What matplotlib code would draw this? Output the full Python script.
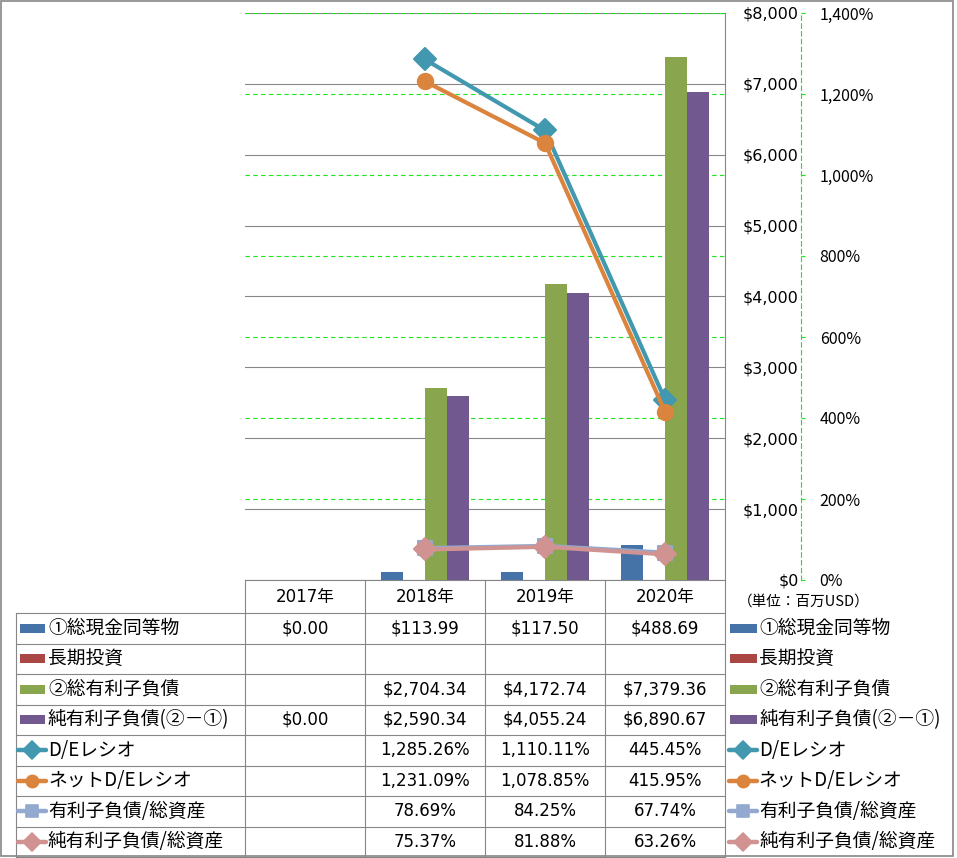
import numpy as np
import matplotlib.pyplot as plt
from matplotlib.patches import Rectangle
from matplotlib.markers import MarkerStyle
from matplotlib.transforms import blended_transform_factory

plt.rcParams['font.family'] = ['Noto Sans CJK JP', 'DejaVu Sans']
num_font = ['DejaVu Sans', 'Noto Sans CJK JP']

#--------------------- data ---------------------
years = ['2017年', '2018年', '2019年', '2020年']
cash = [0.00, 113.99, 117.50, 488.69]
lt_invest = [None, None, None, None]
debt = [None, 2704.34, 4172.74, 7379.36]
net_debt = [0.00, 2590.34, 4055.24, 6890.67]
de_ratio = [None, 1285.26, 1110.11, 445.45]
net_de_ratio = [None, 1231.09, 1078.85, 415.95]
debt_assets = [None, 78.69, 84.25, 67.74]
net_debt_assets = [None, 75.37, 81.88, 63.26]

usd_ticks = list(range(0, 8001, 1000))
pct_ticks = list(range(0, 1401, 200))

def arr(v):
    return np.array([np.nan if a is None else a for a in v], dtype=float)

# (label, values, kind, colour, marker)
series = [
    ('①総現金同等物', cash, 'bar', '#4572A7', None),
    ('長期投資', lt_invest, 'bar', '#AA4643', None),
    ('②総有利子負債', debt, 'bar', '#89A54E', None),
    ('純有利子負債(②－①)', net_debt, 'bar', '#71588F', None),
    ('D/Eレシオ', de_ratio, 'line', '#4198AF', 'D'),
    ('ネットD/Eレシオ', net_de_ratio, 'line', '#DB843D', 'o'),
    ('有利子負債/総資産', debt_assets, 'line', '#93A9CF', 's'),
    ('純有利子負債/総資産', net_debt_assets, 'line', '#D19392', 'D'),
]
msize = {'D': 11.5, 'o': 11, 's': 10.5}

#--------------------- layout (pixels) ---------------------
W, H = 957, 858
L, R, T, B = 245, 725, 13, 580
grid_gray = '#868686'
green = '#1EE61E'

fig = plt.figure(figsize=(W / 100, H / 100), dpi=100)

# table / frame layer
tab = fig.add_axes([0, 0, 1, 1])
tab.set_xlim(0, W)
tab.set_ylim(H, 0)
tab.axis('off')

ax = fig.add_axes([L / W, 1 - B / H, (R - L) / W, (B - T) / H])
ax2 = ax.twinx()

#--------------------- bars ---------------------
x = np.arange(len(years))
w = 1 / 5.5
bars = [s for s in series if s[2] == 'bar']
for i, (lab, vals, kind, col, mk) in enumerate(bars):
    ax.bar(x + (i - 1.5) * w, arr(vals), w, color=col, zorder=3)

ax.set_xlim(-0.5, len(years) - 0.5)
ax.set_ylim(0, 8000)
ax.set_xticks([])
ax.set_yticks(usd_ticks)
ax.set_yticklabels(['${:,}'.format(v) for v in usd_ticks], family=num_font)
ax.yaxis.tick_right()
ax.tick_params(axis='y', length=0, pad=53, labelsize=11.5)
for lbl in ax.get_yticklabels():
    lbl.set_horizontalalignment('right')
ax.grid(axis='y', color=grid_gray, lw=0.8, zorder=1)
ax.set_axisbelow(True)
for s in ['top', 'left']:
    ax.spines[s].set_visible(False)
for s in ['right', 'bottom']:
    ax.spines[s].set_color(grid_gray)
    ax.spines[s].set_linewidth(0.8)

#--------------------- secondary axis ---------------------
ax2.set_ylim(0, 1400)
ax2.set_yticks(pct_ticks)
ax2.set_yticklabels(['{:,}%'.format(v) for v in pct_ticks], family=num_font)
ax2.spines['right'].set_position(('axes', (801 - L) / (R - L)))
ax2.spines['right'].set_color(green)
ax2.spines['right'].set_linestyle((0, (4, 3)))
ax2.spines['right'].set_linewidth(0.8)
for s in ['top', 'left', 'bottom']:
    ax2.spines[s].set_visible(False)
ax2.tick_params(axis='y', color=green, labelcolor='black', length=3,
                width=0.8, pad=10.5, labelsize=11.5)

# secondary gridlines drawn behind the bars
tr = blended_transform_factory(ax.transAxes, ax2.transData)
for v in pct_ticks[1:]:
    ax.plot([0, 1], [v, v], transform=tr, color=green, lw=0.8,
            ls=(0, (4, 3)), zorder=2)

lines = [s for s in series if s[2] == 'line']
for lab, vals, kind, col, mk in lines:
    ax2.plot(x, arr(vals), color=col, lw=3,
             marker=MarkerStyle(mk, joinstyle='round'), ms=msize[mk],
             mec=col, mew=1.5, solid_capstyle='round', zorder=4)

#--------------------- data table ---------------------
rows_y = [613 + i * 30.5 for i in range(9)]
for y in rows_y:
    tab.plot([16, R], [y, y], color=grid_gray, lw=0.8)
tab.plot([16, 16], [rows_y[0], rows_y[-1]], color=grid_gray, lw=0.8)
col_x = [L + i * 120 for i in range(len(years) + 1)]
for cx in col_x:
    tab.plot([cx, cx], [B, rows_y[-1]], color=grid_gray, lw=0.8)

for i, yr in enumerate(years):
    tab.text(L + (i + 0.5) * 120, 597, yr, ha='center', va='center',
             fontsize=12, family=num_font)


def draw_key(x0, x1, yc, kind, col, mk):
    if kind == 'bar':
        tab.add_patch(Rectangle((x0, yc - 4.5), x1 - x0, 9, color=col, lw=0))
    else:
        tab.plot([x0, x1], [yc, yc], color=col, lw=3.2, solid_capstyle='round')
        tab.plot([(x0 + x1) / 2], [yc], ls='none', color=col,
                 marker=MarkerStyle(mk, joinstyle='round'),
                 ms=msize[mk] * 0.8, mec=col, mew=1.2)


for r, (lab, vals, kind, col, mk) in enumerate(series):
    yc = (rows_y[r] + rows_y[r + 1]) / 2
    if kind == 'bar':
        draw_key(20, 45, yc, kind, col, mk)
        draw_key(730, 757, yc, kind, col, mk)
    else:
        draw_key(18, 46, yc, kind, col, mk)
        draw_key(729, 757, yc, kind, col, mk)
    tab.text(48, yc, lab, ha='left', va='center', fontsize=13.5)
    tab.text(759, yc, lab, ha='left', va='center', fontsize=13.5)
    for i, v in enumerate(vals):
        if v is None:
            continue
        if kind == 'bar':
            s = '${:,.2f}'.format(v)
        else:
            s = '{:,.2f}%'.format(v)
        tab.text(L + (i + 0.5) * 120, yc, s, ha='center', va='center',
                 fontsize=12, family=num_font)

tab.text(738, 602, '（単位：百万USD）', ha='left', va='center', fontsize=10.5)

# outer frame
tab.add_patch(Rectangle((1, 1), 952, 855, fill=False, edgecolor=grid_gray, lw=1.2))

plt.savefig('out.png', dpi=100)
